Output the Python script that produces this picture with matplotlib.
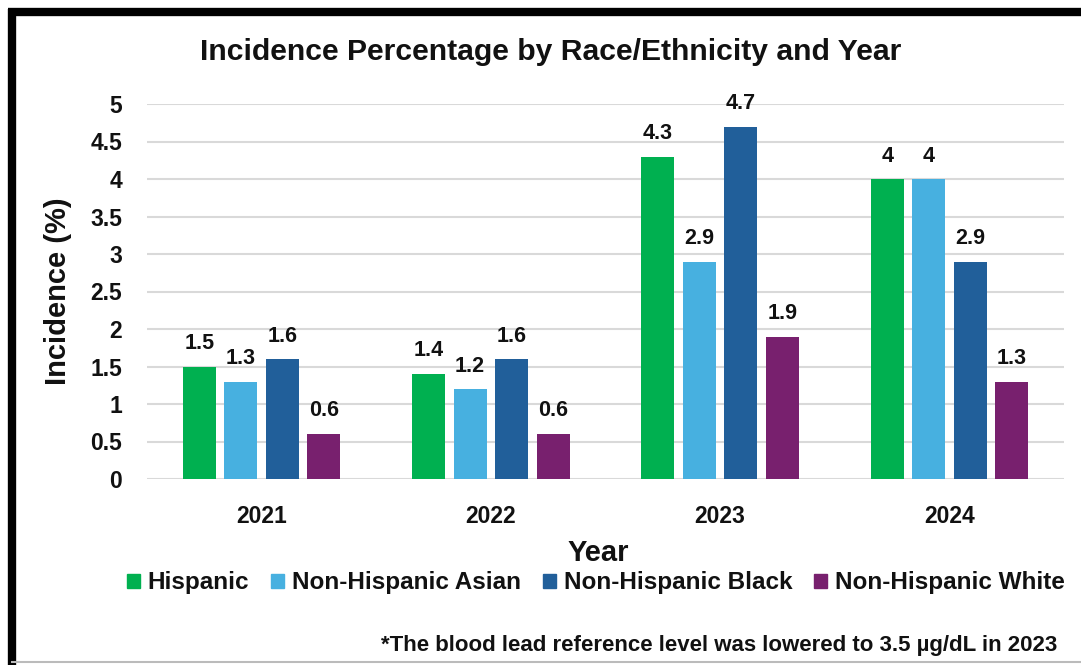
import matplotlib
matplotlib.use("Agg")
import matplotlib.pyplot as plt
import numpy as np
from matplotlib.patches import Rectangle
from matplotlib.lines import Line2D

years = ["2021", "2022", "2023", "2024"]
series = ["Hispanic", "Non-Hispanic Asian", "Non-Hispanic Black", "Non-Hispanic White"]
hispanic = [1.5, 1.4, 4.3, 4.0]
asian = [1.3, 1.2, 2.9, 4.0]
black = [1.6, 1.6, 4.7, 2.9]
white = [0.6, 0.6, 1.9, 1.3]
colors = ["#00B050", "#47B0E0", "#215F9A", "#78206E"]
yticks = [0, 0.5, 1, 1.5, 2, 2.5, 3, 3.5, 4, 4.5, 5]
ytick_labels = ["0", "0.5", "1", "1.5", "2", "2.5", "3", "3.5", "4", "4.5", "5"]

W, H = 1081, 665
fig = plt.figure(figsize=(W / 100, H / 100), dpi=100)
fig.patch.set_facecolor("white")

bold = dict(family="Liberation Sans", weight="bold")

ax = fig.add_axes([147 / W, 1 - 479 / H, (1064 - 147) / W, (479 - 104) / H])
x = np.arange(len(years))
width = 0.144
step = 0.181
data = [hispanic, asian, black, white]
for i, (vals, c, name) in enumerate(zip(data, colors, series)):
    pos = x + (i - 1.5) * step
    bars = ax.bar(pos, vals, width=width, color=c, label=name, zorder=3)
    for b, v in zip(bars, vals):
        lbl = f"{v:g}"
        ax.annotate(lbl, (b.get_x() + b.get_width() / 2, v), xytext=(0, 9),
                    textcoords="offset points", ha="center", va="bottom",
                    fontsize=15.5, color="#111111", **bold)

ax.set_xlim(-0.5, 3.5)
ax.set_ylim(0, 5)
ax.set_yticks(yticks)
ax.set_yticklabels(ytick_labels, fontsize=16.5, color="#111111", **bold)
ax.set_xticks(x)
ax.set_xticklabels(years, fontsize=16.5, color="#111111", **bold)
ax.tick_params(axis="x", length=0, pad=19)
ax.tick_params(axis="y", length=0, pad=18)
ax.grid(axis="y", color="#D9D9D9", linewidth=1.5, zorder=0)
for s in ax.spines.values():
    s.set_visible(False)

ax.set_ylabel("Incidence (%)", fontsize=21, labelpad=13, color="#111111", **bold)

fig.text(551 / W, 1 - 52 / H, "Incidence Percentage by Race/Ethnicity and Year",
         ha="center", va="center", fontsize=21.7, color="#111111", **bold)
fig.text(598 / W, 1 - 553 / H, "Year", ha="center", va="center", fontsize=21,
         color="#111111", **bold)
fig.text(1057 / W, 1 - 645 / H, "*The blood lead reference level was lowered to 3.5 µg/dL in 2023",
         ha="right", va="center", fontsize=16, color="#111111", **bold)

handles = [Rectangle((0, 0), 1, 1, color=c) for c in colors]
leg = fig.legend(handles, series, loc="center", bbox_to_anchor=(596 / W, 1 - 583 / H),
                 ncol=4, frameon=False, handlelength=0.53, handleheight=0.53,
                 handletextpad=0.33, columnspacing=0.9,
                 prop=dict(size=17.5, **bold))
for t in leg.get_texts():
    t.set_color("#111111")

# frame
fig.add_artist(Line2D([8 / W, 1.0], [1 - 12 / H, 1 - 12 / H], color="black", linewidth=6,
                      transform=fig.transFigure, solid_capstyle="butt"))
fig.add_artist(Line2D([12 / W, 12 / W], [1 - 9 / H, 0], color="black", linewidth=6,
                      transform=fig.transFigure, solid_capstyle="butt"))
fig.add_artist(Line2D([12 / W, 1.0], [1 - 662 / H, 1 - 662 / H], color="#BBBBBB", linewidth=1.5,
                      transform=fig.transFigure))

fig.savefig("out.png", dpi=100, facecolor="white")
